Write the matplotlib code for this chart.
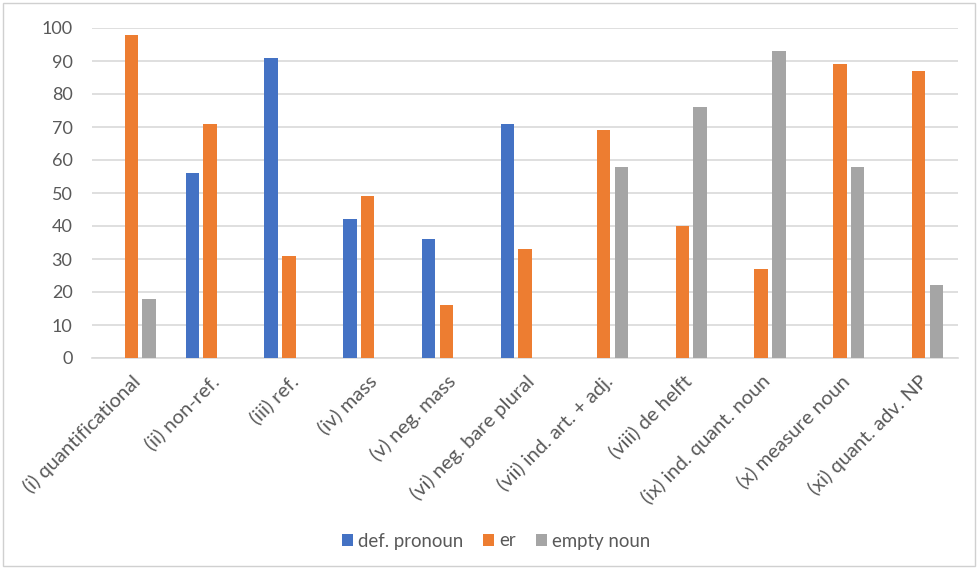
import matplotlib
matplotlib.use("Agg")
import matplotlib.pyplot as plt
import numpy as np
from matplotlib.patches import Rectangle

categories = ["(i) quantificational", "(ii) non-ref.", "(iii) ref.", "(iv) mass",
              "(v) neg. mass", "(vi) neg. bare plural", "(vii) ind. art. + adj.",
              "(viii) de helft", "(ix) ind. quant. noun", "(x) measure noun",
              "(xi) quant. adv. NP"]
def_pronoun = [0, 56, 91, 42, 36, 71, 0, 0, 0, 0, 0]
er = [98, 71, 31, 49, 16, 33, 69, 40, 27, 89, 87]
empty_noun = [18, 0, 0, 0, 0, 0, 58, 76, 93, 58, 22]
series_names = ["def. pronoun", "er", "empty noun"]
colors = ["#4472C4", "#ED7D31", "#A5A5A5"]

plt.rcParams['font.family'] = ['Lato', 'DejaVu Sans']
text_color = "#595959"

fig = plt.figure(figsize=(9.78, 5.69), dpi=100)
ax = fig.add_axes([92/978, 1 - 358/569, (958-92)/978, (358-28)/569])

x = np.arange(len(categories))
w = 0.17
off = 0.225
for i, (vals, name, c) in enumerate(zip([def_pronoun, er, empty_noun], series_names, colors)):
    ax.bar(x + (i - 1) * off, vals, width=w, color=c, label=name, zorder=3)

ax.set_xlim(-0.5, len(categories) - 0.5)
ax.set_ylim(0, 100)
ax.set_yticks(range(0, 101, 10))
ax.yaxis.grid(True, color="#D9D9D9", linewidth=1.2, zorder=0)
ax.set_axisbelow(True)
for s in ["top", "right", "left"]:
    ax.spines[s].set_visible(False)
ax.spines["bottom"].set_color("#D9D9D9")
ax.spines["bottom"].set_linewidth(1.2)
ax.tick_params(axis="y", length=0, labelsize=13, labelcolor=text_color, pad=14)
ax.tick_params(axis="x", length=0, labelsize=14.5, labelcolor=text_color, pad=10)
ax.set_xticks(x)
ax.set_xticklabels(categories, rotation=45, ha="right", rotation_mode="anchor")

leg = fig.legend(loc="center", bbox_to_anchor=(496/978, 1 - 541/569), ncol=3,
                 frameon=False, fontsize=13.4, handlelength=0.6, handleheight=0.6,
                 handletextpad=0.25, columnspacing=1.1)
for t in leg.get_texts():
    t.set_color(text_color)

fig.patches.append(Rectangle((3/978, 3/569), 1 - 6/978, 1 - 6/569, transform=fig.transFigure,
                             fill=False, edgecolor="#D0D0D0", linewidth=1))

fig.savefig("out.png", dpi=100)
